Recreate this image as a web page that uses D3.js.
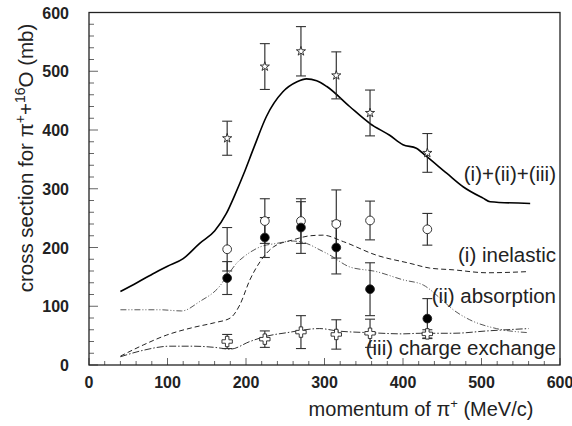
<!DOCTYPE html>
<html>
  <head>
    <meta charset="utf-8">
    <script src="https://d3js.org/d3.v7.min.js"></script>
    <style>
      body { margin: 0; background: #fff; }
      text { font-family: Arial, "Liberation Sans", Helvetica, sans-serif; }
    </style>
  </head>
  <body>
    <div id="chart"></div>
    <script>
      // measured points (momentum in MeV/c)
      var momentum = [176, 224, 270, 315, 358, 431];
      var totalVal = [386, 508, 534, 493, 429, 361];
      var totalErr = [29, 39, 42, 40, 39, 33];
      var inelVal = [197, 245, 245, 240, 246, 231];
      var inelErr = [37, 38, 38, 58, 33, 27];
      var absVal = [148, 217, 234, 200, 129, 79];
      var absErr = [28, 34, 44, 45, 45, 34];
      var cxVal = [40, 44, 56, 52, 54, 53];
      var cxErr = [12, 14, 28, 25, 24, 7];

      // model curves
      var totalCurveX = [40, 61, 81, 100, 120, 141, 160, 175, 186, 197, 210, 226, 247, 265, 277, 290, 303, 332, 358, 383, 400, 417, 430, 456, 477, 502, 511, 562];
      var totalCurveY = [125, 140, 155, 168, 181, 207, 228, 258, 290, 325, 370, 423, 465, 482, 487, 484, 474, 440, 411, 391, 375, 369, 355, 326, 303, 284, 278, 275];
      var inelCurveX = [40, 69, 99, 133, 160, 180, 192, 205, 218, 235, 260, 282, 298, 324, 366, 409, 434, 464, 507, 560];
      var inelCurveY = [15, 34, 51, 64, 72, 80, 102, 145, 176, 201, 213, 220, 221, 210, 187, 173, 165, 162, 157, 159];
      var absCurveX = [40, 90, 118, 141, 167, 175, 190, 197, 218, 239, 260, 277, 294, 307, 332, 366, 400, 426, 447, 464, 485, 519, 560];
      var absCurveY = [94, 94, 92, 108, 135, 150, 176, 184, 201, 207, 211, 207, 196, 187, 167, 159, 145, 136, 114, 94, 77, 62, 55];
      var cxCurveX = [40, 69, 103, 133, 160, 180, 205, 226, 252, 294, 316, 358, 400, 422, 464, 507, 560];
      var cxCurveY = [14, 25, 32, 32, 30, 27, 40, 49, 55, 62, 58, 55, 53, 54, 54, 58, 62];

      var xTicks = [0, 100, 200, 300, 400, 500, 600];
      var yTicks = [0, 100, 200, 300, 400, 500, 600];

      var W = 572, H = 426;
      var margin = {left: 89, top: 12.5, right: 12, bottom: 61};
      var width = W - margin.left - margin.right;
      var height = H - margin.top - margin.bottom;

      var svg = d3.select("#chart").append("svg")
        .attr("width", W)
        .attr("height", H);
      var g = svg.append("g")
        .attr("transform", "translate(" + margin.left + "," + margin.top + ")");

      var x = d3.scaleLinear().domain([0, 600]).range([0, width]);
      var y = d3.scaleLinear().domain([0, 600]).range([height, 0]);

      // minor + major ticks, drawn inward
      var xMinor = d3.range(0, 601, 20);
      var yMinor = d3.range(0, 601, 20);
      g.selectAll(".xminor").data(xMinor).enter().append("line")
        .attr("x1", function(d) { return x(d); })
        .attr("x2", function(d) { return x(d); })
        .attr("y1", height)
        .attr("y2", function(d) { return height - (d % 100 == 0 ? 7 : 4); })
        .style("stroke", "#666").style("stroke-width", 1);
      g.selectAll(".yminor").data(yMinor).enter().append("line")
        .attr("y1", function(d) { return y(d); })
        .attr("y2", function(d) { return y(d); })
        .attr("x1", 0)
        .attr("x2", function(d) { return d % 100 == 0 ? 9 : 5; })
        .style("stroke", "#666").style("stroke-width", 1);

      // tick labels
      g.selectAll(".xlab").data(xTicks).enter().append("text")
        .attr("x", function(d) { return x(d); })
        .attr("y", height + 23)
        .attr("text-anchor", "middle")
        .style("font-size", "16px").style("font-weight", "bold").style("fill", "#222")
        .text(function(d) { return d; });
      g.selectAll(".ylab").data(yTicks).enter().append("text")
        .attr("x", -20)
        .attr("y", function(d) { return y(d) + 6; })
        .attr("text-anchor", "end")
        .style("font-size", "16px").style("font-weight", "bold").style("fill", "#222")
        .text(function(d) { return d; });

      // frame
      g.append("rect")
        .attr("width", width).attr("height", height)
        .style("fill", "none").style("stroke", "#222").style("stroke-width", 1.3);

      // curves
      var line = d3.line()
        .x(function(d) { return x(d[0]); })
        .y(function(d) { return y(d[1]); })
        .curve(d3.curveMonotoneX);
      function drawCurve(xs, ys, dash, w, col) {
        g.append("path")
          .datum(d3.zip(xs, ys))
          .attr("d", line)
          .style("fill", "none")
          .style("stroke", col)
          .style("stroke-width", w)
          .style("stroke-dasharray", dash);
      }
      drawCurve(totalCurveX, totalCurveY, null, 1.6, "#000");
      drawCurve(inelCurveX, inelCurveY, "5,3", 1, "#222");
      drawCurve(absCurveX, absCurveY, "6,2,1,2,1,2", 0.9, "#444");
      drawCurve(cxCurveX, cxCurveY, "7,2,1.5,2", 1, "#333");

      // error bars
      function drawErr(vals, errs) {
        var rows = d3.zip(momentum, vals, errs);
        var eg = g.append("g");
        eg.selectAll(".v").data(rows).enter().append("line")
          .attr("x1", function(d) { return x(d[0]); })
          .attr("x2", function(d) { return x(d[0]); })
          .attr("y1", function(d) { return y(d[1] - d[2]); })
          .attr("y2", function(d) { return y(d[1] + d[2]); })
          .style("stroke", "#222").style("stroke-width", 1.1);
        [-1, 1].forEach(function(s) {
          eg.selectAll(".c" + s).data(rows).enter().append("line")
            .attr("x1", function(d) { return x(d[0]) - 5; })
            .attr("x2", function(d) { return x(d[0]) + 5; })
            .attr("y1", function(d) { return y(d[1] + s * d[2]); })
            .attr("y2", function(d) { return y(d[1] + s * d[2]); })
            .style("stroke", "#333").style("stroke-width", 1.1);
        });
      }
      drawErr(totalVal, totalErr);
      drawErr(inelVal, inelErr);
      drawErr(absVal, absErr);
      drawErr(cxVal, cxErr);

      // markers
      function drawMarks(vals, sym, size, fill) {
        g.append("g").selectAll("path")
          .data(d3.zip(momentum, vals))
          .enter().append("path")
          .attr("transform", function(d) { return "translate(" + x(d[0]) + "," + y(d[1]) + ")"; })
          .attr("d", d3.symbol().type(sym).size(size))
          .style("fill", fill)
          .style("stroke", "#222")
          .style("stroke-width", 0.9);
      }
      drawMarks(totalVal, d3.symbolStar, 26, "#fff");
      drawMarks(inelVal, d3.symbolCircle, 60, "#fff");
      drawMarks(absVal, d3.symbolCircle, 60, "#000");
      drawMarks(cxVal, d3.symbolCross, 60, "#fff");

      // curve labels
      var labels = [
        {t: "(i)+(ii)+(iii)", yv: 313},
        {t: "(i) inelastic", yv: 175},
        {t: "(ii) absorption", yv: 105},
        {t: "(iii) charge exchange", yv: 17}
      ];
      g.selectAll(".clab").data(labels).enter().append("text")
        .attr("x", width - 4)
        .attr("y", function(d) { return y(d.yv); })
        .attr("text-anchor", "end")
        .style("font-size", "20.5px").style("fill", "#222")
        .text(function(d) { return d.t; });

      // axis titles
      var xt = svg.append("text")
        .attr("x", 421).attr("y", 416)
        .attr("text-anchor", "middle")
        .style("font-size", "20px").style("fill", "#222");
      xt.append("tspan").text("momentum of  π");
      xt.append("tspan").attr("dy", -8).style("font-size", "13px").text("+");
      xt.append("tspan").attr("dy", 8).text("  (MeV/c)");

      var yt = svg.append("text")
        .attr("transform", "translate(33,158) rotate(-90)")
        .attr("text-anchor", "middle")
        .style("font-size", "20.5px").style("fill", "#222");
      yt.append("tspan").text("cross section for  π");
      yt.append("tspan").attr("dy", -8).style("font-size", "14px").text("+");
      yt.append("tspan").attr("dy", 8).text("+");
      yt.append("tspan").attr("dy", -8).style("font-size", "14px").text("16");
      yt.append("tspan").attr("dy", 8).text("O (mb)");
    </script>
  </body>
</html>
